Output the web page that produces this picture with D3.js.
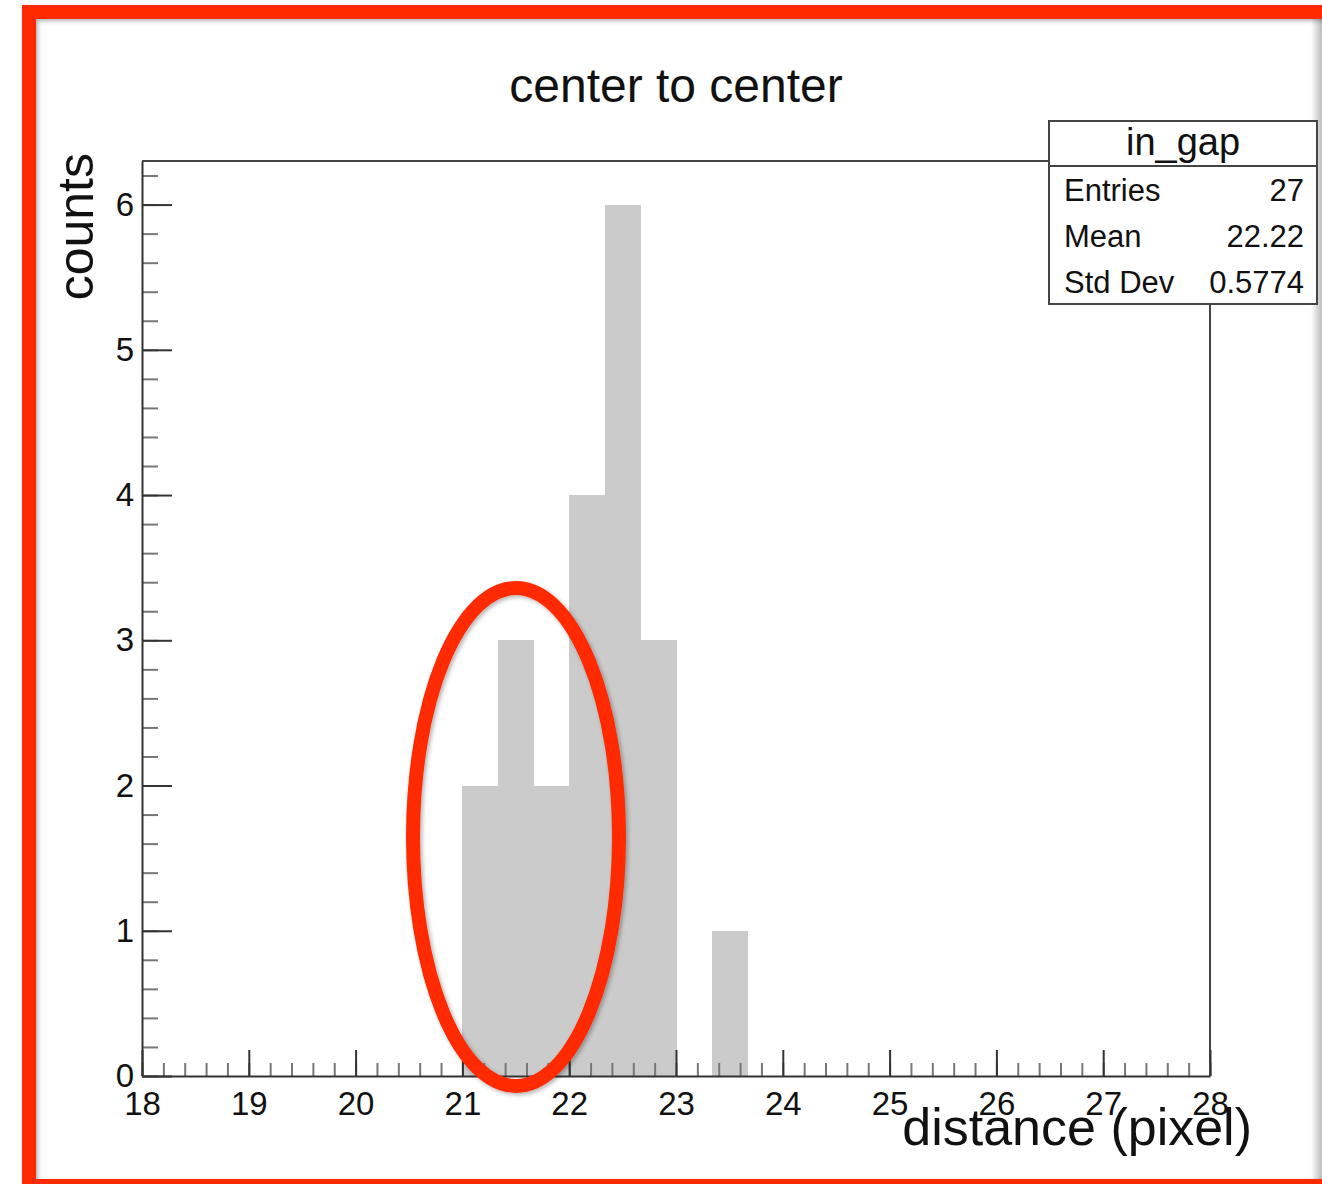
<!DOCTYPE html>
<html>
<head>
<meta charset="utf-8">
<script src="https://cdn.jsdelivr.net/npm/d3@7"></script>
<style>
  html, body { margin: 0; padding: 0; background: #fff; }
  svg { display: block; }
  text { font-family: "Liberation Sans", Arial, Helvetica, sans-serif; fill: #111; }
</style>
</head>
<body>
<svg id="chart"></svg>
<script>
// histogram "in_gap", bins of 1/3 pixel
const binLow = [21.000, 21.333, 21.667, 22.000, 22.333, 22.667, 23.000, 23.333];
const binWidth = 1 / 3;
const counts = [2, 3, 2, 4, 6, 3, 0, 1];

const xTicks = [18, 19, 20, 21, 22, 23, 24, 25, 26, 27, 28];
const yTicks = [0, 1, 2, 3, 4, 5, 6];

const statsTitle = "in_gap";
const statsLabels = ["Entries", "Mean", "Std Dev"];
const statsValues = ["27", "22.22", "0.5774"];

const title = "center to center";
const xTitle = "distance (pixel)";
const yTitle = "counts";

let width = 1322, height = 1184;
let plotL = 142, plotR = 1210, plotT = 161, plotB = 1076;

const x = d3.scaleLinear().domain([18, 28]).range([plotL, plotR]);
const y = d3.scaleLinear().domain([0, 6.3]).range([plotB, plotT]);

const svg = d3.select("#chart")
    .attr("width", width)
    .attr("height", height);

const defs = svg.append("defs");
defs.append("filter")
    .attr("id", "shadow")
    .attr("x", "-10%").attr("y", "-10%").attr("width", "120%").attr("height", "120%")
    .append("feDropShadow")
    .attr("dx", 2).attr("dy", 2).attr("stdDeviation", 2)
    .attr("flood-color", "#000").attr("flood-opacity", 0.3);

const grad = defs.append("linearGradient").attr("id", "edge")
    .attr("x1", "0%").attr("x2", "100%");
grad.append("stop").attr("offset", "0%").attr("stop-color", "#fff");
grad.append("stop").attr("offset", "100%").attr("stop-color", "#bbb");

// right edge shading
svg.append("rect")
    .attr("x", 1311).attr("y", 19)
    .attr("width", 11).attr("height", 1160)
    .attr("fill", "url(#edge)");

// bars
svg.append("g")
    .attr("shape-rendering", "crispEdges")
    .selectAll("rect")
    .data(counts)
    .enter()
    .append("rect")
    .attr("x", (d, i) => x(binLow[i]))
    .attr("y", d => y(d))
    .attr("width", (d, i) => x(binLow[i] + binWidth) - x(binLow[i]) + 0.5)
    .attr("height", d => y(0) - y(d))
    .attr("fill", "#cbcbcb");

// frame top / right
svg.append("path")
    .attr("d", `M${plotL},${plotT}H${plotR}V${plotB}`)
    .attr("fill", "none")
    .attr("stroke", "#444")
    .attr("stroke-width", 2);

// minor ticks
svg.append("g")
    .attr("transform", "translate(0," + plotB + ")")
    .call(d3.axisBottom(x).tickValues(d3.range(18, 28.01, 0.2)).tickSizeInner(-13).tickSizeOuter(0).tickFormat(""))
    .call(g => g.select(".domain").remove())
    .selectAll("line").attr("stroke", "#777").attr("stroke-width", 2);

svg.append("g")
    .attr("transform", "translate(" + plotL + ",0)")
    .call(d3.axisLeft(y).tickValues(d3.range(0, 6.31, 0.2)).tickSizeInner(-16).tickSizeOuter(0).tickFormat(""))
    .call(g => g.select(".domain").remove())
    .selectAll("line").attr("stroke", "#777").attr("stroke-width", 2);

// major ticks + labels
const xAxis = svg.append("g")
    .attr("transform", "translate(0," + plotB + ")")
    .call(d3.axisBottom(x).tickValues(xTicks).tickSizeInner(-26).tickSizeOuter(0).tickPadding(16).tickFormat(d3.format("d")));
xAxis.select(".domain").attr("stroke", "#333").attr("stroke-width", 2);
xAxis.selectAll("line").attr("stroke", "#333").attr("stroke-width", 2);
xAxis.selectAll("text")
    .attr("font-size", "33px")
    .attr("font-family", "Liberation Sans, Arial, sans-serif")
    .attr("fill", "#111");

const yAxis = svg.append("g")
    .attr("transform", "translate(" + plotL + ",0)")
    .call(d3.axisLeft(y).tickValues(yTicks).tickSizeInner(-30).tickSizeOuter(0).tickPadding(8).tickFormat(d3.format("d")));
yAxis.select(".domain").attr("stroke", "#333").attr("stroke-width", 2);
yAxis.selectAll("line").attr("stroke", "#333").attr("stroke-width", 2);
yAxis.selectAll("text")
    .attr("font-size", "33px")
    .attr("font-family", "Liberation Sans, Arial, sans-serif")
    .attr("fill", "#111");

// stats box
const box = svg.append("g").attr("transform", "translate(1049,121)");
box.append("rect")
    .attr("width", 268).attr("height", 183)
    .attr("fill", "#fff")
    .attr("stroke", "#444").attr("stroke-width", 2);
box.append("line")
    .attr("x1", 0).attr("x2", 268).attr("y1", 45).attr("y2", 45)
    .attr("stroke", "#444").attr("stroke-width", 2);
box.append("text")
    .attr("x", 134).attr("y", 34)
    .attr("text-anchor", "middle")
    .attr("font-size", "38px")
    .text(statsTitle);
box.selectAll(".lbl")
    .data(statsLabels)
    .enter()
    .append("text")
    .attr("class", "lbl")
    .attr("x", 15)
    .attr("y", (d, i) => 80 + i * 46)
    .attr("font-size", "31px")
    .text(d => d);
box.selectAll(".val")
    .data(statsValues)
    .enter()
    .append("text")
    .attr("class", "val")
    .attr("x", 255)
    .attr("y", (d, i) => 80 + i * 46)
    .attr("text-anchor", "end")
    .attr("font-size", "31px")
    .text(d => d);

// titles
svg.append("text")
    .attr("x", 676).attr("y", 102)
    .attr("text-anchor", "middle")
    .attr("font-size", "48px")
    .text(title);

svg.append("text")
    .attr("transform", "translate(93,153) rotate(-90)")
    .attr("text-anchor", "end")
    .attr("font-size", "50px")
    .text(yTitle);

// narrow label as on the slide
svg.append("text")
    .attr("x", 1252).attr("y", 1145)
    .attr("text-anchor", "end")
    .attr("font-size", "52px")
    .attr("font-family", "Lato, 'Open Sans', Roboto, sans-serif")
    .attr("font-weight", 300)
    .text(xTitle);

// highlight ellipse
svg.append("ellipse")
    .attr("cx", 516).attr("cy", 837)
    .attr("rx", 103).attr("ry", 249)
    .attr("fill", "none")
    .attr("stroke", "#ff2a00")
    .attr("stroke-width", 14)
    .attr("filter", "url(#shadow)");

// outer red frame
svg.append("rect")
    .attr("x", 29).attr("y", 12)
    .attr("width", 1320).attr("height", 1174)
    .attr("fill", "none")
    .attr("stroke", "#ff2a00")
    .attr("stroke-width", 14)
    .attr("filter", "url(#shadow)");
</script>
</body>
</html>
